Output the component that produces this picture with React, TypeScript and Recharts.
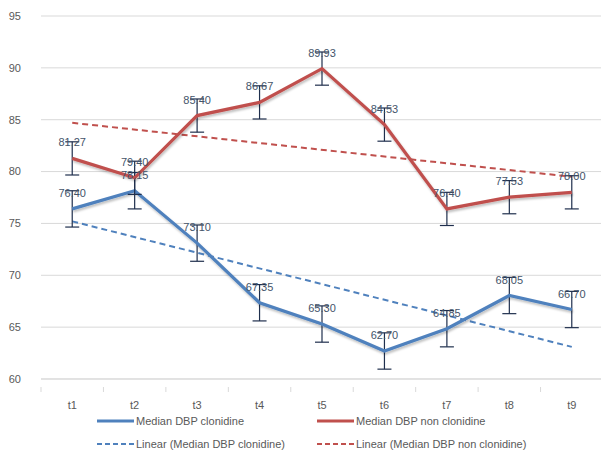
import { CartesianGrid, ErrorBar, LabelList, Line, LineChart, XAxis, YAxis } from "recharts";

const categories = ["t1", "t2", "t3", "t4", "t5", "t6", "t7", "t8", "t9"];
const clonidine = [76.4, 78.15, 73.1, 67.35, 65.3, 62.7, 64.85, 68.05, 66.7];
const nonClonidine = [81.27, 79.4, 85.4, 86.67, 89.93, 84.53, 76.4, 77.53, 78.0];
const clonidineErr = [1.75, 1.75, 1.75, 1.75, 1.75, 1.75, 1.75, 1.75, 1.75];
const nonClonidineErr = [1.6, 1.6, 1.6, 1.6, 1.6, 1.6, 1.6, 1.6, 1.6];
// trend lines at first and last point
const clonidineTrend = [75.2, null, null, null, null, null, null, null, 63.1];
const nonClonidineTrend = [84.7, null, null, null, null, null, null, null, 79.5];
const yTicks = [60, 65, 70, 75, 80, 85, 90, 95];

const BLUE = "#4f81bd";
const RED = "#c0504d";
const LABEL = "#44546a";
const AXIS_TEXT = "#595959";
const FONT = "'Liberation Sans', Arial, sans-serif";

const W = 601;
const H = 457;
const LEFT = 41;
const RIGHT = -2;
const BAND = (W - LEFT - RIGHT) / categories.length;

const data = categories.map((c, i) => ({
  name: c,
  clon: clonidine[i],
  nonClon: nonClonidine[i],
  clonErr: clonidineErr[i],
  nonClonErr: nonClonidineErr[i],
  clonTrend: clonidineTrend[i],
  nonClonTrend: nonClonidineTrend[i],
}));

function XTick(props: any) {
  const { x, y, payload, index } = props;
  return (
    <g>
      <line x1={x - BAND / 2} x2={x - BAND / 2} y1={y} y2={y + 5} stroke="#d9d9d9" />
      {index === categories.length - 1 && (
        <line x1={x + BAND / 2} x2={x + BAND / 2} y1={y} y2={y + 5} stroke="#d9d9d9" />
      )}
      <text x={x} y={y + 22} textAnchor="middle" fill={AXIS_TEXT} fontSize={11} fontFamily={FONT}>
        {payload.value}
      </text>
    </g>
  );
}

const fmt = (v: any) => Number(v).toFixed(2);

function LegendItem({ color, dashed, label }: { color: string; dashed?: boolean; label: string }) {
  return (
    <div style={{ display: "flex", alignItems: "center", width: 220 }}>
      <svg width={37} height={6} style={{ marginRight: 2 }}>
        <line
          x1={0}
          x2={37}
          y1={3}
          y2={3}
          stroke={color}
          strokeWidth={dashed ? 2 : 3}
          strokeDasharray={dashed ? "5 3" : undefined}
        />
      </svg>
      <span style={{ fontSize: 11, color: AXIS_TEXT, fontFamily: FONT }}>{label}</span>
    </div>
  );
}

export default function App() {
  return (
    <div style={{ position: "absolute", left: 0, top: 0, width: W, height: H, background: "#fff" }}>
      <svg width={0} height={0} style={{ position: "absolute" }}>
        <defs>
          <filter id="lineShadow" x="-10%" y="-10%" width="120%" height="130%">
            <feDropShadow dx="1" dy="2" stdDeviation="1.2" floodColor="#000" floodOpacity="0.25" />
          </filter>
        </defs>
      </svg>
      <LineChart width={W} height={H} data={data} margin={{ top: 16, right: RIGHT, bottom: 48, left: 0 }}>
        <CartesianGrid vertical={false} stroke="#d9d9d9" />
        <XAxis
          dataKey="name"
          height={30}
          padding={{ left: BAND / 2, right: BAND / 2 }}
          axisLine={{ stroke: "#d9d9d9" }}
          tickLine={false}
          tick={<XTick />}
          interval={0}
        />
        <YAxis
          width={LEFT}
          domain={[60, 95]}
          ticks={yTicks}
          allowDataOverflow
          axisLine={false}
          tickLine={false}
          tickSize={0}
          tickMargin={20}
          tick={{ fontSize: 11, fill: AXIS_TEXT, fontFamily: FONT }}
        />
        <Line
          dataKey="clonTrend"
          stroke={BLUE}
          strokeWidth={2}
          strokeDasharray="6 4"
          dot={false}
          connectNulls
          isAnimationActive={false}
        />
        <Line
          dataKey="nonClonTrend"
          stroke={RED}
          strokeWidth={2}
          strokeDasharray="6 4"
          dot={false}
          connectNulls
          isAnimationActive={false}
        />
        <Line
          dataKey="clon"
          stroke={BLUE}
          strokeWidth={3.2}
          dot={false}
          style={{ filter: "url(#lineShadow)" }}
          isAnimationActive={false}
        >
          <ErrorBar dataKey="clonErr" width={7} stroke="#1f2f4d" strokeWidth={1.2} direction="y" />
          <LabelList dataKey="clon" position="top" offset={12} formatter={fmt} fill={LABEL} fontSize={11} fontFamily={FONT} />
        </Line>
        <Line
          dataKey="nonClon"
          stroke={RED}
          strokeWidth={3.2}
          dot={false}
          style={{ filter: "url(#lineShadow)" }}
          isAnimationActive={false}
        >
          <ErrorBar dataKey="nonClonErr" width={7} stroke="#1f2f4d" strokeWidth={1.2} direction="y" />
          <LabelList dataKey="nonClon" position="top" offset={12} formatter={fmt} fill={LABEL} fontSize={11} fontFamily={FONT} />
        </Line>
      </LineChart>
      <div style={{ position: "absolute", left: 97, top: 415, display: "grid", gridTemplateColumns: "220px 220px", rowGap: 11 }}>
        <LegendItem color={BLUE} label="Median DBP clonidine" />
        <LegendItem color={RED} label="Median DBP non clonidine" />
        <LegendItem color={BLUE} dashed label="Linear (Median DBP clonidine)" />
        <LegendItem color={RED} dashed label="Linear (Median DBP non clonidine)" />
      </div>
    </div>
  );
}
